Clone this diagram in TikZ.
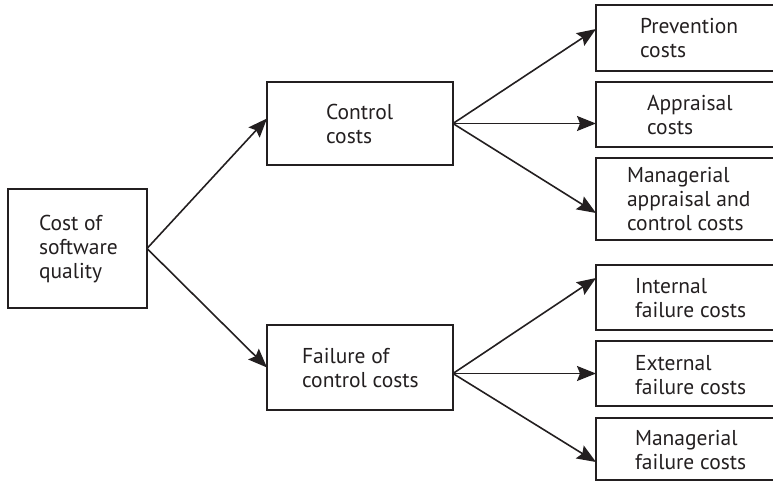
\documentclass[tikz,border=0pt]{standalone}
\usepackage{fontspec}
\setmainfont{PT Sans}
\usetikzlibrary{arrows.meta,calc}
\definecolor{ink}{HTML}{231F20}
\newcommand\txtlines[1]{\vtop{\baselineskip=24pt\lineskiplimit=-20pt #1}}
\begin{document}
\begin{tikzpicture}[x=1pt,y=-1pt,
  box/.style={draw=ink,line width=1.8pt,rectangle,inner sep=0pt,outer sep=0pt},
  txt/.style={anchor=base west,inner sep=0pt,outer sep=0pt,text=ink,font=\fontsize{21.5pt}{24pt}\selectfont},
  conn/.style={draw=ink,line width=1.6pt,-{Stealth[length=19pt,width=15pt,inset=3pt]}}]
\useasboundingbox (0,0) rectangle (773,482);
\clip (0,0) rectangle (773,482);
% boxes
\node[box,minimum width=139pt,minimum height=119pt] (src) at (77.5,248.5) {};
\node[box,minimum width=186pt,minimum height=83pt] (ctrl) at (360,123.5) {};
\node[box,minimum width=186pt,minimum height=85pt] (fail) at (360,367.5) {};
\node[box,minimum width=194pt,minimum height=66pt] (prev) at (693,38) {};
\node[box,minimum width=194pt,minimum height=65pt] (appr) at (693,114.5) {};
\node[box,minimum width=194pt,minimum height=82pt] (mgra) at (693,199) {};
\node[box,minimum width=194pt,minimum height=65pt] (intl) at (693,297.5) {};
\node[box,minimum width=194pt,minimum height=65pt] (extl) at (693,373.5) {};
\node[box,minimum width=194pt,minimum height=62pt] (mgrf) at (693,449) {};
% texts
\node[txt] (tsrc) at (39,230) {\txtlines{\hbox{Cost of}\hbox{software}\hbox{quality}}};
\node[txt] (tctrl) at (326,119) {\txtlines{\hbox{Control}\hbox{costs}}};
\node[txt] (tfail) at (302,363) {\txtlines{\hbox{Failure of}\hbox{control costs}}};
\node[txt] (tprev) at (640,33) {\txtlines{\hbox{Prevention}\hbox{costs}}};
\node[txt] (tappr) at (647,110) {\txtlines{\hbox{Appraisal}\hbox{costs}}};
\node[txt] (tmgra) at (627,182) {\txtlines{\hbox{Managerial}\hbox{appraisal and}\hbox{control costs}}};
\node[txt] (tintl) at (635,293) {\txtlines{\hbox{Internal}\hbox{failure costs}}};
\node[txt] (textl) at (635,370) {\txtlines{\hbox{External}\hbox{failure costs}}};
\node[txt] (tmgrf) at (635,445) {\txtlines{\hbox{Managerial}\hbox{failure costs}}};
% connectors
\draw[conn] (src.east) -- ([yshift=5pt]ctrl.west);
\draw[conn] (src.east) -- (fail.west);
\draw[conn] (ctrl.east) -- ([yshift=9pt]prev.west);
\draw[conn] (ctrl.east) -- (ctrl.east -| appr.west);
\draw[conn] (ctrl.east) -- ([yshift=-14pt]mgra.west);
\draw[conn] ([yshift=-6pt]fail.east) -- ([yshift=19.5pt]intl.west);
\draw[conn] ([yshift=-6pt]fail.east) -- ([yshift=-6pt]fail.east -| extl.west);
\draw[conn] ([yshift=-6pt]fail.east) -- ([yshift=-13pt]mgrf.west);
\end{tikzpicture}
\end{document}
